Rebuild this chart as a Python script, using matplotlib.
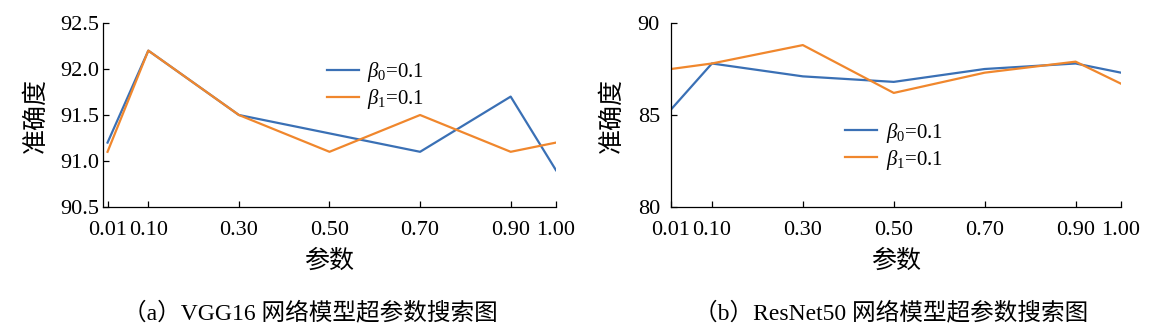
import numpy as np
import matplotlib
matplotlib.use("Agg")
import matplotlib.pyplot as plt

plt.rcParams['font.family'] = ['Liberation Serif', 'Noto Sans CJK SC']
plt.rcParams['mathtext.fontset'] = 'custom'
plt.rcParams['mathtext.rm'] = 'Liberation Serif'
plt.rcParams['mathtext.it'] = 'Liberation Serif:italic'

# data
params = [0.01, 0.10, 0.30, 0.50, 0.70, 0.90, 1.00]
tick_labels = ['0.01', '0.10', '0.30', '0.50', '0.70', '0.90', '1.00']

vgg_b0 = [91.2, 92.2, 91.5, 91.3, 91.1, 91.7, 90.9]
vgg_b1 = [91.1, 92.2, 91.5, 91.1, 91.5, 91.1, 91.2]

res_b0 = [85.3, 87.8, 87.1, 86.8, 87.5, 87.8, 87.3]
res_b1 = [87.5, 87.8, 88.8, 86.2, 87.3, 87.9, 86.7]

series_labels = [r'$\beta_0$=0.1', r'$\beta_1$=0.1']
blue = '#3a70b5'
orange = '#f0872d'

fig = plt.figure(figsize=(11.68, 3.32), dpi=100)
ax1 = fig.add_axes([0.0882, 0.3765, 0.3878, 0.5542])
ax2 = fig.add_axes([0.5745, 0.3765, 0.3853, 0.5542])


def style(ax, xmin, ylim, yticks, yfmt, ypad, ylab_x, leg_xy):
    ax.set_xlim(xmin, 1.0)
    ax.set_ylim(*ylim)
    ax.set_xticks(params)
    ax.set_xticklabels(tick_labels)
    ax.set_yticks(yticks)
    ax.set_yticklabels([yfmt.format(v) for v in yticks])
    for s in ['top', 'right']:
        ax.spines[s].set_visible(False)
    for s in ['left', 'bottom']:
        ax.spines[s].set_linewidth(0.9)
    ax.tick_params(direction='in', length=4, width=0.9, labelsize=16)
    ax.tick_params(axis='x', pad=10)
    ax.tick_params(axis='y', pad=ypad)
    ax.set_xlabel('参数', fontsize=18)
    ax.set_ylabel('准确度', fontsize=18)
    ax.xaxis.set_label_coords(0.5, -0.23)
    ax.yaxis.set_label_coords(ylab_x, 0.5)
    ax.legend(loc='upper left', bbox_to_anchor=leg_xy, frameon=False,
              fontsize=15, handlelength=1.55, handletextpad=0.4,
              labelspacing=0.15, borderpad=0, borderaxespad=0)


ax1.plot(params, vgg_b0, color=blue, lw=1.6, label=series_labels[0])
ax1.plot(params, vgg_b1, color=orange, lw=1.6, label=series_labels[1])
style(ax1, 0.0, (90.5, 92.5), [90.5, 91.0, 91.5, 92.0, 92.5], '{:.1f}', 3,
      -0.122, (0.494, 0.80))

ax2.plot(params, res_b0, color=blue, lw=1.6, label=series_labels[0])
ax2.plot(params, res_b1, color=orange, lw=1.6, label=series_labels[1])
style(ax2, 0.01, (80, 90), [80, 85, 90], '{:.0f}', 8, -0.105, (0.387, 0.47))

fig.text(310 / 1168, 1 - 313 / 332, '（a）VGG16 网络模型超参数搜索图',
         ha='center', va='center', fontsize=17)
fig.text(891 / 1168, 1 - 313 / 332, '（b）ResNet50 网络模型超参数搜索图',
         ha='center', va='center', fontsize=17)

fig.savefig('out.png', dpi=100)
